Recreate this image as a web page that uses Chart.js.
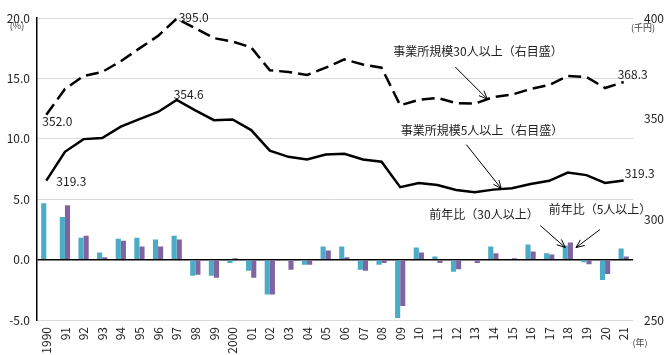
<!DOCTYPE html>
<html><head><meta charset="utf-8">
<script src="https://cdn.jsdelivr.net/npm/chart.js@4/dist/chart.umd.min.js"></script>
<style>html,body{margin:0;padding:0;background:#fff}#wrap{width:670px;height:355px;position:relative}</style>
</head><body><div id="wrap"><canvas id="c" width="670" height="355"></canvas></div>
<script>
const years = ['1990','91','92','93','94','95','96','97','98','99','2000','01','02','03','04','05','06','07','08','09','10','11','12','13','14','15','16','17','18','19','20','21'];
// 現金給与（千円, 右目盛）
const wage30 = [352.0,364.8,371.3,373.3,378.6,385.0,391.2,399.8,395.0,390.1,388.4,385.5,374.1,373.3,371.8,375.4,379.5,377.0,375.4,356.7,359.4,360.4,357.8,357.5,360.8,362.0,364.8,366.8,371.3,370.8,365.3,368.3];
const wage5  = [319.3,333.6,339.9,340.4,346.1,349.8,353.4,359.4,354.2,349.3,349.7,344.4,334.2,331.1,329.8,332.2,332.6,329.8,328.7,316.0,318.1,317.1,314.6,313.5,314.8,315.5,317.6,319.2,323.3,322.0,318.1,319.3];
// 前年比（%, 左目盛）
const yoy30 = [4.67,3.53,1.82,0.60,1.74,1.82,1.66,1.98,-1.33,-1.33,-0.27,-0.92,-2.88,0,-0.43,1.09,1.09,-0.84,-0.43,-4.83,1.00,0.27,-1.00,0,1.09,0,1.25,0.52,1.17,-0.22,-1.68,0.92];
const yoy5  = [null,4.50,1.98,0.19,1.57,1.09,1.09,1.66,-1.25,-1.49,0.11,-1.49,-2.88,-0.84,-0.43,0.76,0.19,-0.92,-0.27,-3.85,0.60,-0.27,-0.79,-0.27,0.52,0.11,0.68,0.43,1.41,-0.38,-1.19,0.27];
const leftTicks = [20,15,10,5,0,-5];
const rightTicks = [400,350,300,250];
// 数値ラベル [系列, 年index, テキスト]
const valueLabels = [['wage30',0,'352.0'],['wage30',7,'395.0'],['wage30',31,'368.3'],['wage5',0,'319.3'],['wage5',7,'354.6'],['wage5',31,'319.3']];
const noteTexts = ['事業所規模30人以上（右目盛）','事業所規模5人以上（右目盛）','前年比（30人以上）','前年比（5人以上）'];

const FONT = "'Noto Sans CJK JP','Noto Sans',sans-serif";
const CYAN = '#4bacc6', PURPLE = '#8064a2';

function arrow(ctx, x1, y1, x2, y2){
  ctx.beginPath(); ctx.moveTo(x1,y1); ctx.lineTo(x2,y2); ctx.stroke();
  const a = Math.atan2(y2-y1, x2-x1), h = 9, s = 0.4;
  ctx.beginPath();
  ctx.moveTo(x2 - h*Math.cos(a - s), y2 - h*Math.sin(a - s));
  ctx.lineTo(x2, y2);
  ctx.lineTo(x2 - h*Math.cos(a + s), y2 - h*Math.sin(a + s));
  ctx.stroke();
}

const annot = {
  id: 'annot',
  afterDraw(chart){
    const ctx = chart.ctx, xs = chart.scales.x, y1 = chart.scales.y1, y = chart.scales.y;
    const series = {wage30, wage5};
    const offs = {'wage30,0':[-4,7,'left'],'wage30,7':[2,-1,'left'],'wage30,31':[-6,-8,'left'],'wage5,0':[10,1,'left'],'wage5,7':[-3,-5,'left'],'wage5,31':[1,-7,'left']};
    ctx.save();
    ctx.fillStyle = '#222';
    ctx.font = '12px ' + FONT;
    ctx.textBaseline = 'middle';
    valueLabels.forEach(([k,i,t])=>{
      const px = xs.getPixelForValue(i), py = y1.getPixelForValue(series[k][i]);
      const o = offs[k+','+i];
      ctx.textAlign = o[2];
      ctx.fillText(t, px + o[0], py + o[1]);
    });
    ctx.textAlign = 'center';
    ctx.fillText(noteTexts[0], 478, 51);
    ctx.fillText(noteTexts[1], 482, 130);
    ctx.fillText(noteTexts[2], 484, 214);
    ctx.fillText(noteTexts[3], 600, 209);
    ctx.strokeStyle = '#000'; ctx.lineWidth = 1;
    let tx = xs.getPixelForValue(24) - 6, ty = y1.getPixelForValue(wage30[24]) + 2;
    arrow(ctx, tx-32, ty-32, tx, ty);
    tx = xs.getPixelForValue(24) + 8; ty = y1.getPixelForValue(wage5[24]) - 1;
    arrow(ctx, tx-35, ty-44, tx, ty);
    const bw = (xs.getPixelForValue(1)-xs.getPixelForValue(0))*0.55/2;
    tx = xs.getPixelForValue(28) - bw/2; ty = y.getPixelForValue(yoy30[28]) + 2;
    arrow(ctx, tx-25, ty-22, tx, ty);
    tx = xs.getPixelForValue(28) + bw + 3; ty = y.getPixelForValue(yoy5[28]) + 5;
    arrow(ctx, tx+24, ty-18, tx, ty);
    ctx.fillStyle = '#404040';
    ctx.font = '9px ' + FONT;
    ctx.textAlign = 'center';
    ctx.fillText('(%)', 17, 26);
    ctx.fillText('(千円)', 643, 28);
    ctx.fillText('(年)', 640, 343);
    ctx.restore();
  }
};

new Chart(document.getElementById('c'), {
  type: 'bar',
  data: {
    labels: years,
    datasets: [
      {type:'line', data: wage30, yAxisID:'y1', borderColor:'#000', borderWidth:2.5, borderDash:[13,6], pointRadius:0, tension:0, fill:false, clip:false},
      {type:'line', data: wage5, yAxisID:'y1', borderColor:'#000', borderWidth:2.5, pointRadius:0, tension:0, fill:false, clip:false},
      {type:'bar', data: yoy30, yAxisID:'y', backgroundColor: CYAN, categoryPercentage:0.55, barPercentage:1.0},
      {type:'bar', data: yoy5, yAxisID:'y', backgroundColor: PURPLE, categoryPercentage:0.55, barPercentage:1.0}
    ]
  },
  options: {
    responsive:false, animation:false, devicePixelRatio:1,
    layout:{padding:{top:13, left:0, right:0, bottom:0}},
    plugins:{legend:{display:false}, tooltip:{enabled:false}},
    scales:{
      x:{
        grid:{display:false, drawTicks:false}, border:{display:false},
        ticks:{autoSkip:false, maxRotation:90, minRotation:90, padding:7, color:'#222', font:{size:12, family:FONT}},
        afterFit(s){ s.height = 35; }
      },
      y:{
        position:'left', min:-5, max:20,
        afterBuildTicks(s){ s.ticks = leftTicks.map(v=>({value:v})); },
        grid:{color:(c)=> c.tick && c.tick.value===0 ? '#000' : '#d9d9d9', lineWidth:(c)=> c.tick && c.tick.value===0 ? 1.5 : 1, drawTicks:false},
        border:{display:true, color:'#000', width:1.5},
        ticks:{padding:7, color:'#222', font:{size:12, family:FONT}, callback:(v)=>Number(v).toFixed(1)},
        afterFit(s){ s.width = 37; }
      },
      y1:{
        position:'right', min:250, max:400,
        afterBuildTicks(s){ s.ticks = rightTicks.map(v=>({value:v})); },
        grid:{display:false, drawTicks:false}, border:{display:false},
        ticks:{padding:11, color:'#222', font:{size:12, family:FONT}},
        afterFit(s){ s.width = 37; }
      }
    }
  },
  plugins:[annot]
});
</script></body></html>
